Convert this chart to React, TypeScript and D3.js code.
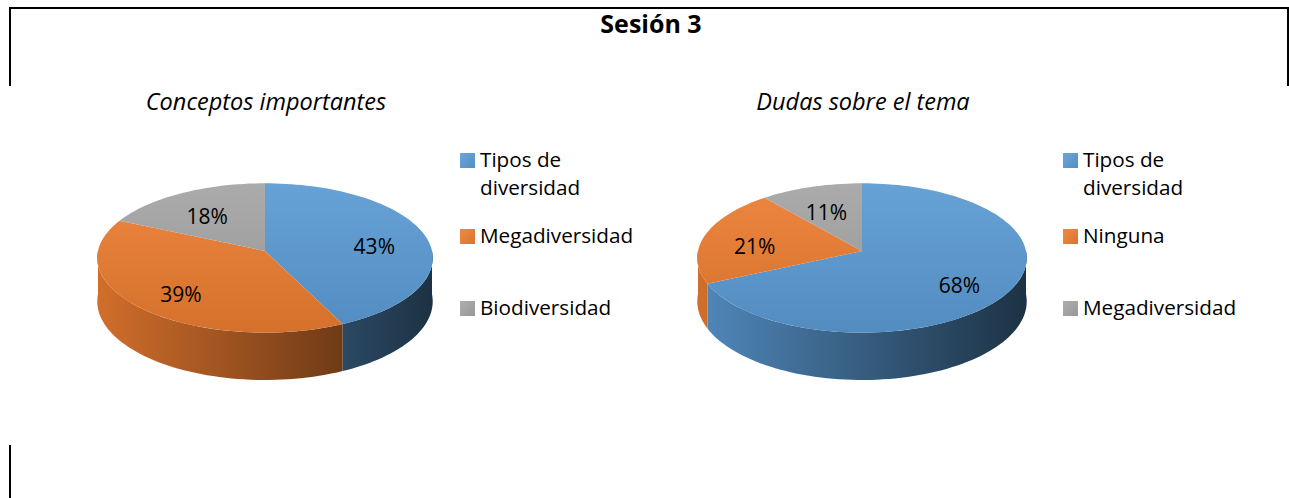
import React from 'react'
import * as d3 from 'd3'

// Sesión 3 - two pseudo-3D pies
const title = 'Sesión 3'

const leftTitle = 'Conceptos importantes'
const leftLabels = ['Tipos de diversidad', 'Megadiversidad', 'Biodiversidad']
const leftValues = [43, 39, 18]

const rightTitle = 'Dudas sobre el tema'
const rightLabels = ['Tipos de diversidad', 'Ninguna', 'Megadiversidad']
const rightValues = [68, 21, 11]

const colors = ['#5b9bd5', '#ed7d31', '#a5a5a5']

const W = 1289
const H = 498
const FONT = '"Open Sans", sans-serif'

const shade = (c: string, k: number) => {
  const col = d3.rgb(c)
  return d3.rgb(col.r * k, col.g * k, col.b * k).formatHex()
}
const lighten = (c: string, k: number) => {
  const col = d3.rgb(c)
  return d3.rgb(col.r + (255 - col.r) * k, col.g + (255 - col.g) * k, col.b + (255 - col.b) * k).formatHex()
}

// wrap legend labels like the original
const wrap = (s: string) => (s === 'Tipos de diversidad' ? ['Tipos de', 'diversidad'] : [s])

function Pie3D({ id, cx, cy, rx, ry, persp, depth, values, labels, chartTitle, legendX }) {
  const pie = d3.pie<number>().sort(null).value(d => d)
  const arcs = pie(values)

  // simple perspective: the front of the disc is closer, so it's drawn bigger
  const proj = (t: number, dy = 0, f = 1): [number, number] => {
    const c = Math.cos(t)
    const s = 1 / (1 + persp * f * c)
    return [cx + rx * f * Math.sin(t) * s, cy - ry * f * c * s + dy * s]
  }
  const steps = (a: number, b: number) => {
    const n = Math.max(2, Math.ceil(((b - a) / Math.PI) * 90))
    return d3.range(n + 1).map(i => a + ((b - a) * i) / n)
  }
  const line = d3.line()

  const tops = arcs.map(a => {
    const pts = steps(a.startAngle, a.endAngle).map(t => proj(t))
    return line([[cx, cy], ...pts]) + 'Z'
  })

  // outer walls, only the front half can be seen
  const sides = arcs.map(a => {
    const s = Math.max(a.startAngle, Math.PI / 2)
    const e = Math.min(a.endAngle, (3 * Math.PI) / 2)
    if (e <= s) return null
    const ts = steps(s, e)
    const topPts = ts.map(t => proj(t))
    const botPts = ts.slice().reverse().map(t => proj(t, depth))
    return line([...topPts, ...botPts]) + 'Z'
  })

  const labelPos = arcs.map(a => proj((a.startAngle + a.endAngle) / 2, depth * 0.15, 0.68))

  const total = d3.sum(values)
  const legendTop = 160
  const legendRows = [0, 76, 148]

  return (
    <g>
      <defs>
        {colors.map((c, i) => (
          <linearGradient key={'s' + i} id={`${id}-side-${i}`} gradientUnits="userSpaceOnUse" x1={cx - rx} x2={cx + rx} y1={0} y2={0}>
            <stop offset="0" stopColor={shade(c, 0.88)} />
            <stop offset="1" stopColor={shade(c, 0.32)} />
          </linearGradient>
        ))}
        {colors.map((c, i) => (
          <linearGradient key={'t' + i} id={`${id}-top-${i}`} gradientUnits="userSpaceOnUse" x1={0} x2={0} y1={cy - ry} y2={cy + ry * 1.1}>
            <stop offset="0" stopColor={lighten(c, 0.08)} />
            <stop offset="1" stopColor={shade(c, 0.9)} />
          </linearGradient>
        ))}
        {colors.map((c, i) => (
          <linearGradient key={'l' + i} id={`${id}-leg-${i}`} x1={0} x2={1} y1={0} y2={1}>
            <stop offset="0" stopColor={lighten(c, 0.1)} />
            <stop offset="1" stopColor={shade(c, 0.92)} />
          </linearGradient>
        ))}
      </defs>
      <text x={cx + 1} y={110} textAnchor="middle" fontStyle="italic" fontSize={23.5} fontFamily={FONT} fill="#000">
        {chartTitle}
      </text>
      {sides.map((d, i) => (d ? <path key={'side' + i} d={d} fill={`url(#${id}-side-${i})`} /> : null))}
      {tops.map((d, i) => (
        <path key={'top' + i} d={d} fill={`url(#${id}-top-${i})`} />
      ))}
      {arcs.map((a, i) => (
        <text key={'lab' + i} x={labelPos[i][0]} y={labelPos[i][1]} dy="0.35em" textAnchor="middle" fontSize={21} fontFamily={FONT} fill="#000">
          {Math.round((a.value / total) * 100)}%
        </text>
      ))}
      {labels.map((lab, i) => (
        <g key={'leg' + i} transform={`translate(${legendX},${legendTop + legendRows[i]})`}>
          <rect x={0} y={-7} width={15} height={15} fill={`url(#${id}-leg-${i})`} />
          {wrap(lab).map((ln, j) => (
            <text key={j} x={20} y={j * 28} dy="0.35em" fontSize={20.7} fontFamily={FONT} fill="#000">
              {ln}
            </text>
          ))}
        </g>
      ))}
    </g>
  )
}

export default function App() {
  return (
    <svg width={W} height={H} style={{ position: 'absolute', left: 0, top: 0, background: '#fff' }}>
      <rect x={0} y={0} width={W} height={H} fill="#fff" />
      <line x1={9} x2={W} y1={8} y2={8} stroke="#000" strokeWidth={2} />
      <line x1={10} x2={10} y1={7} y2={86} stroke="#000" strokeWidth={2} />
      <line x1={10} x2={10} y1={445} y2={H} stroke="#000" strokeWidth={2} />
      <line x1={W - 1} x2={W - 1} y1={7} y2={86} stroke="#000" strokeWidth={2} />
      <text x={651} y={33} textAnchor="middle" fontWeight="bold" fontSize={25} fontFamily={FONT} fill="#000">
        {title}
      </text>
      <Pie3D id="p1" cx={265} cy={251} rx={167} ry={74} persp={0.093} depth={43}
        values={leftValues} labels={leftLabels} chartTitle={leftTitle} legendX={460} />
      <Pie3D id="p2" cx={862} cy={251} rx={164} ry={74} persp={0.093} depth={43}
        values={rightValues} labels={rightLabels} chartTitle={rightTitle} legendX={1063} />
    </svg>
  )
}
